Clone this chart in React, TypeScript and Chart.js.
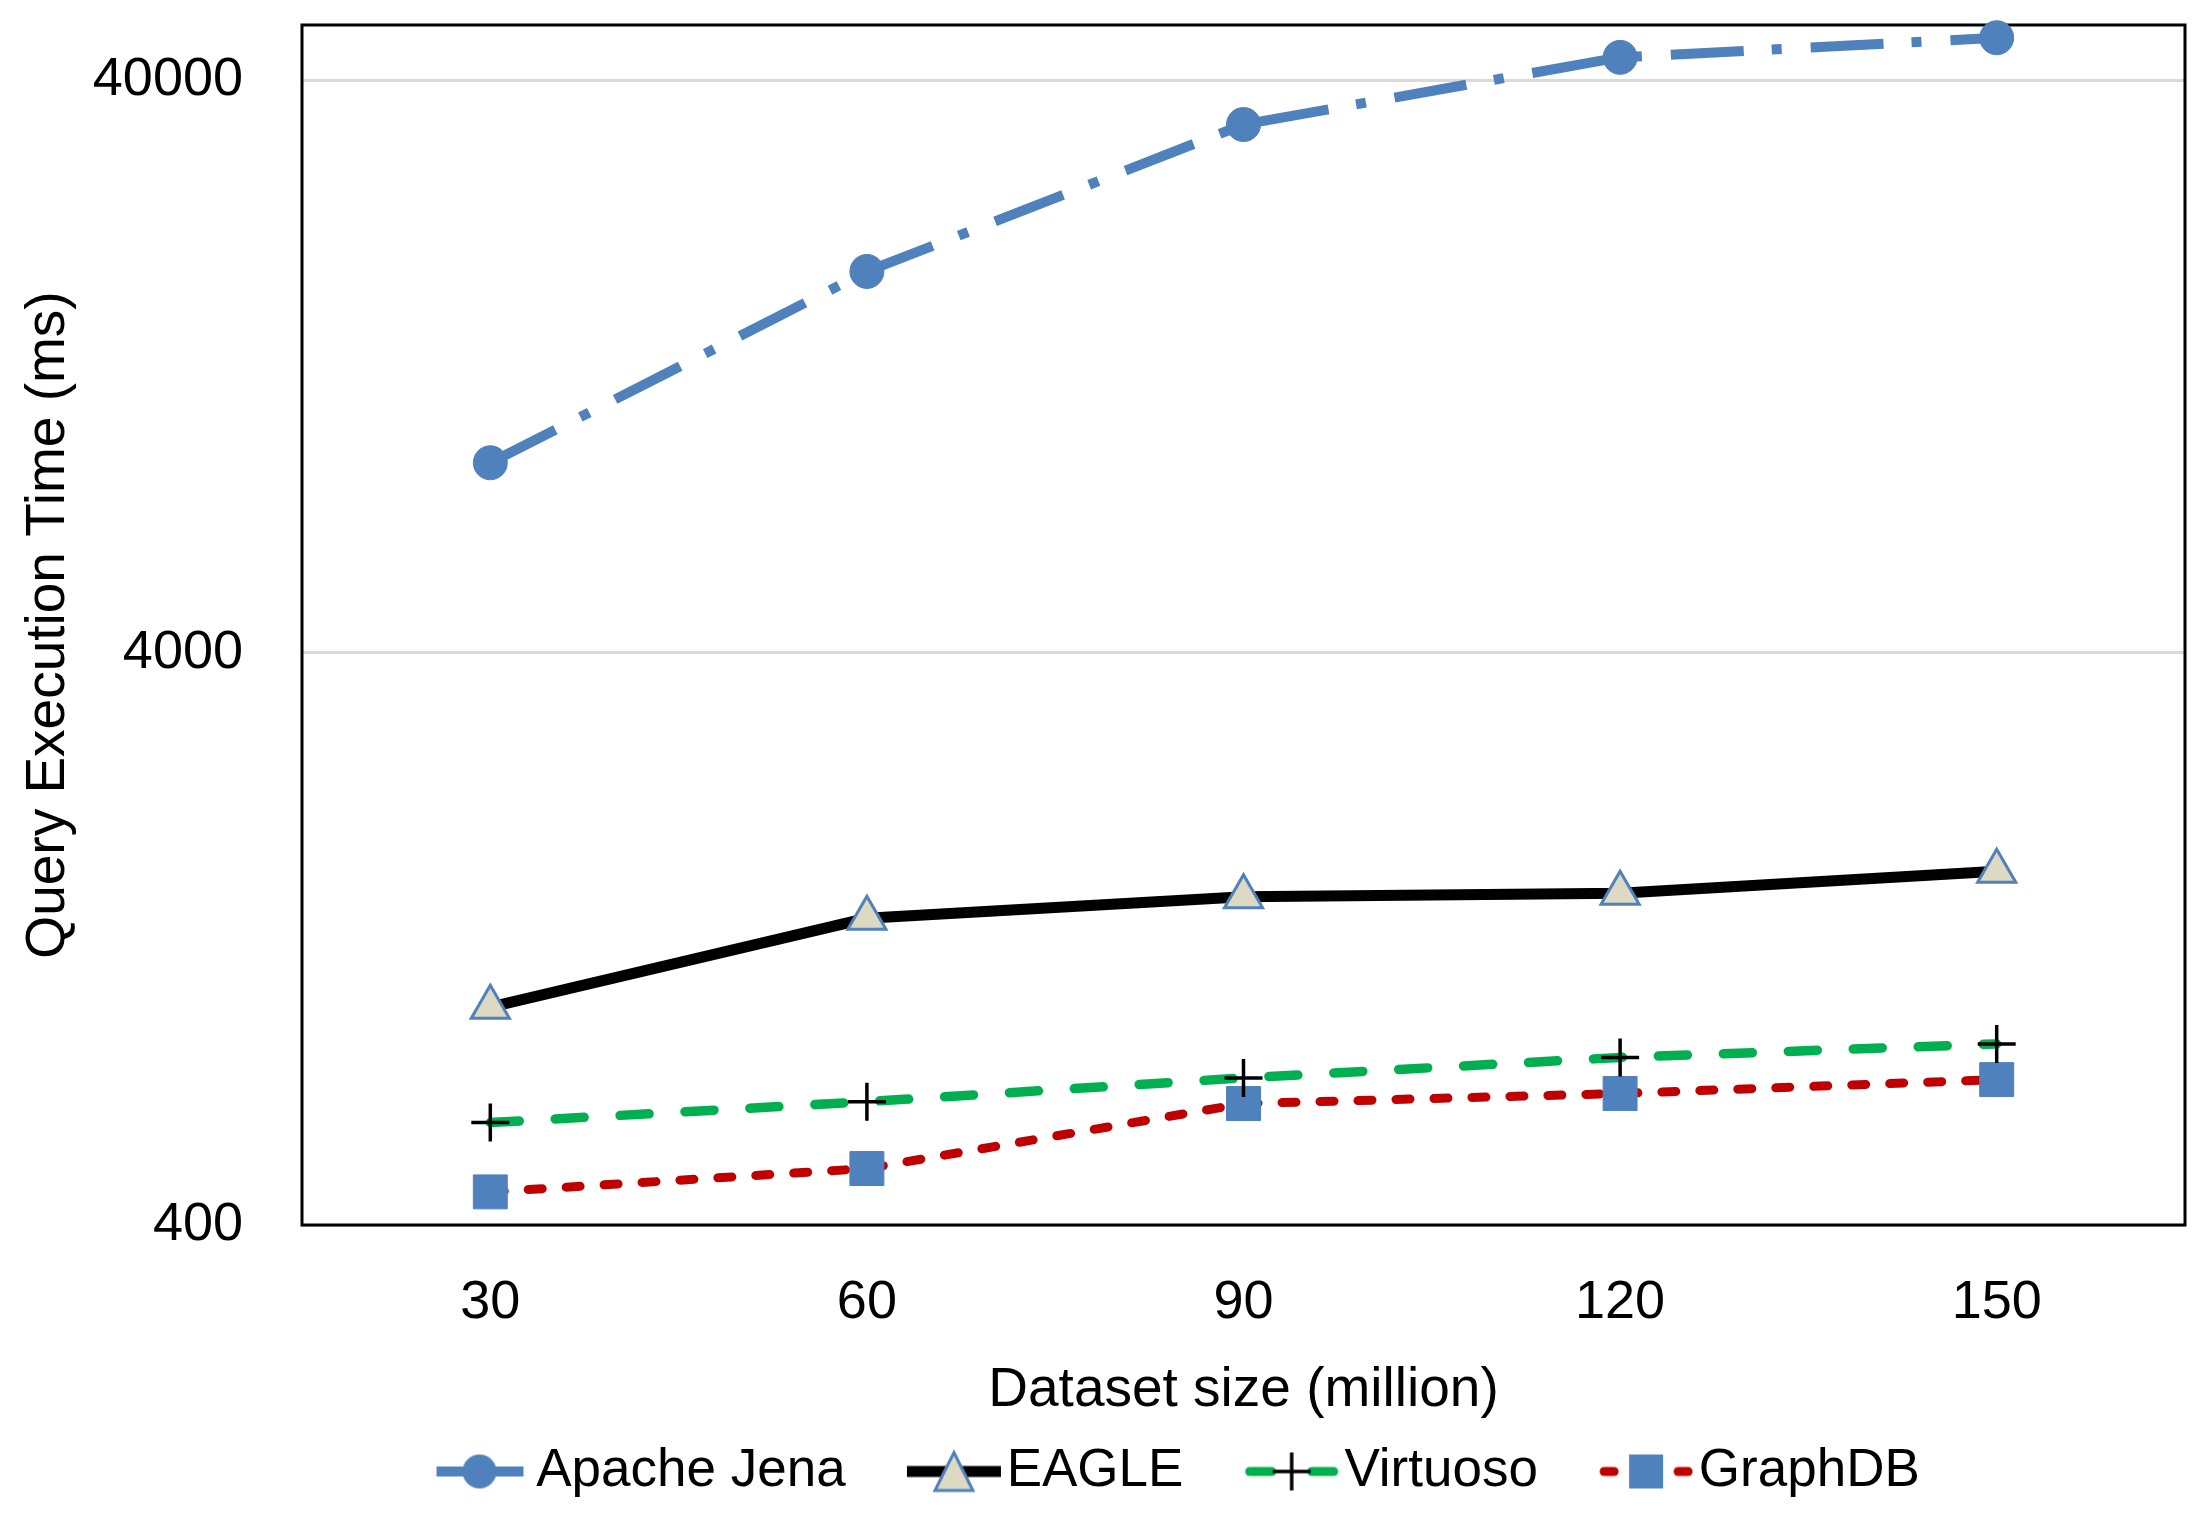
import { useEffect, useRef } from "react"
import { Chart, registerables, type ChartConfiguration } from "chart.js"

Chart.register(...registerables)

// values (log scale, ms)
const datasetSizes = ["30", "60", "90", "120", "150"]
const apacheJena = [8590, 18550, 33500, 43900, 47500]
const eagle = [961, 1374, 1498, 1520, 1660]
const virtuoso = [604, 657, 723, 785, 829]
const graphDb = [457, 502, 652, 679, 718]
const yTicks = [400, 4000, 40000]
const seriesNames = ["Apache Jena", "EAGLE", "Virtuoso", "GraphDB"]

const BLUE = "#4F81BD"
const BEIGE = "#DDD9C3"
const GREEN = "#00B050"
const RED = "#C00000"

Chart.defaults.font.family = "'Liberation Sans', Arial, sans-serif"
Chart.defaults.color = "#000"

// legend sample: line + marker, drawn into the right part of a small canvas
function legendSample(draw: (ctx: CanvasRenderingContext2D) => void) {
  const c = document.createElement("canvas")
  c.width = 168
  c.height = 54
  const ctx = c.getContext("2d")
  if (ctx) draw(ctx)
  return c
}

function seg(ctx: CanvasRenderingContext2D, x1: number, x2: number) {
  ctx.beginPath()
  ctx.moveTo(x1, 27)
  ctx.lineTo(x2, 27)
  ctx.stroke()
}

function makeLegendImages() {
  const jena = legendSample((ctx) => {
    ctx.strokeStyle = BLUE
    ctx.lineWidth = 10
    seg(ctx, 73, 160)
    ctx.fillStyle = BLUE
    ctx.beginPath()
    ctx.arc(116, 27, 17, 0, Math.PI * 2)
    ctx.fill()
  })
  const eagleImg = legendSample((ctx) => {
    ctx.strokeStyle = "#000"
    ctx.lineWidth = 11
    seg(ctx, 73, 167)
    ctx.beginPath()
    ctx.moveTo(120, 8)
    ctx.lineTo(139, 46)
    ctx.lineTo(101, 46)
    ctx.closePath()
    ctx.fillStyle = BEIGE
    ctx.fill()
    ctx.strokeStyle = BLUE
    ctx.lineWidth = 3
    ctx.stroke()
  })
  const virt = legendSample((ctx) => {
    ctx.strokeStyle = GREEN
    ctx.lineWidth = 9
    ctx.lineCap = "round"
    seg(ctx, 78, 100)
    seg(ctx, 140, 162)
    ctx.lineCap = "butt"
    ctx.strokeStyle = "#000"
    ctx.lineWidth = 3.5
    ctx.beginPath()
    ctx.moveTo(120, 8)
    ctx.lineTo(120, 46)
    ctx.moveTo(101, 27)
    ctx.lineTo(139, 27)
    ctx.stroke()
  })
  const gdb = legendSample((ctx) => {
    ctx.strokeStyle = RED
    ctx.lineWidth = 9
    ctx.lineCap = "round"
    seg(ctx, 78, 88)
    seg(ctx, 152, 162)
    ctx.fillStyle = BLUE
    ctx.fillRect(103, 10, 34, 34)
  })
  return [jena, eagleImg, virt, gdb]
}

const plotFrame = {
  id: "plotFrame",
  beforeDatasetsDraw(chart: Chart) {
    const { ctx, chartArea: a } = chart
    ctx.save()
    ctx.strokeStyle = "#000"
    ctx.lineWidth = 3
    ctx.strokeRect(a.left, a.top, a.right - a.left, a.bottom - a.top)
    ctx.restore()
  },
}

// nudge the centred legend row to the right, as in the original
const legendShift = {
  id: "legendShift",
  afterLayout(chart: Chart) {
    if (chart.legend) chart.legend.left += 103
  },
}

export default function App() {
  const canvasRef = useRef<HTMLCanvasElement>(null)

  useEffect(() => {
    document.body.style.margin = "0"
    document.body.style.overflow = "hidden"
    if (!canvasRef.current) return
    const images = makeLegendImages()

    const config: ChartConfiguration<"line"> = {
      type: "line",
      data: {
        labels: datasetSizes,
        datasets: [
          {
            label: seriesNames[0],
            data: apacheJena,
            borderColor: BLUE,
            borderWidth: 10,
            borderDash: [73, 28, 10, 29],
            borderCapStyle: "butt",
            pointStyle: "circle",
            pointRadius: 17,
            pointBackgroundColor: BLUE,
            pointBorderColor: BLUE,
            pointBorderWidth: 1,
            tension: 0,
            clip: false,
          },
          {
            label: seriesNames[1],
            data: eagle,
            borderColor: "#000",
            borderWidth: 11,
            pointStyle: "triangle",
            pointRadius: 22,
            pointBackgroundColor: BEIGE,
            pointBorderColor: BLUE,
            pointBorderWidth: 3,
            tension: 0,
            clip: false,
          },
          {
            label: seriesNames[2],
            data: virtuoso,
            borderColor: GREEN,
            borderWidth: 9.5,
            borderDash: [29, 36],
            borderCapStyle: "round",
            pointStyle: "cross",
            pointRadius: 19,
            pointBorderColor: "#000",
            pointBorderWidth: 3.5,
            tension: 0,
            clip: false,
          },
          {
            label: seriesNames[3],
            data: graphDb,
            borderColor: RED,
            borderWidth: 9,
            borderDash: [14, 24],
            borderCapStyle: "round",
            pointStyle: "rect",
            pointRadius: 24,
            pointBackgroundColor: BLUE,
            pointBorderColor: BLUE,
            pointBorderWidth: 1,
            tension: 0,
            clip: false,
          },
        ],
      },
      options: {
        responsive: true,
        maintainAspectRatio: false,
        animation: false,
        layout: { padding: { top: 19, right: 8, left: 0, bottom: 7 } },
        scales: {
          x: {
            type: "category",
            offset: true,
            grid: { display: false, drawTicks: false },
            border: { display: false },
            ticks: { padding: 46, font: { size: 54 }, color: "#000" },
            title: {
              display: true,
              text: "Dataset size (million)",
              font: { size: 55 },
              color: "#000",
              padding: { top: 19, bottom: 11 },
            },
            afterFit: (scale) => {
              scale.height = 210
              scale.paddingLeft = 0
              scale.paddingRight = 0
            },
          },
          y: {
            type: "logarithmic",
            min: 400,
            max: 50000,
            grid: { color: "#D9D9D9", lineWidth: 3, drawTicks: false },
            border: { display: false },
            ticks: {
              padding: 59,
              font: { size: 54 },
              color: "#000",
              callback: (v) => String(v),
            },
            afterBuildTicks: (scale) => {
              scale.ticks = yTicks.map((value) => ({ value }))
            },
            title: {
              display: true,
              text: "Query Execution Time (ms)",
              font: { size: 55 },
              color: "#000",
              padding: { top: 16, bottom: 0 },
            },
            afterFit: (scale) => {
              scale.width = 302
              scale.paddingTop = 0
              scale.paddingBottom = 0
            },
          },
        },
        plugins: {
          tooltip: { enabled: false },
          legend: {
            position: "bottom",
            labels: {
              usePointStyle: true,
              pointStyleWidth: 124.5,
              padding: 10,
              color: "#000",
              font: { size: 53 },
              generateLabels: (chart) =>
                chart.data.datasets.map((ds, i) => ({
                  text: String(ds.label),
                  pointStyle: images[i],
                  fillStyle: "transparent",
                  strokeStyle: "transparent",
                  lineWidth: 0,
                  hidden: false,
                  datasetIndex: i,
                })),
            },
          },
        },
      },
      plugins: [plotFrame, legendShift],
    }

    const chart = new Chart(canvasRef.current, config)
    return () => chart.destroy()
  }, [])

  return (
    <div style={{ position: "relative", width: 2210, height: 1515 }}>
      <canvas ref={canvasRef} />
    </div>
  )
}
